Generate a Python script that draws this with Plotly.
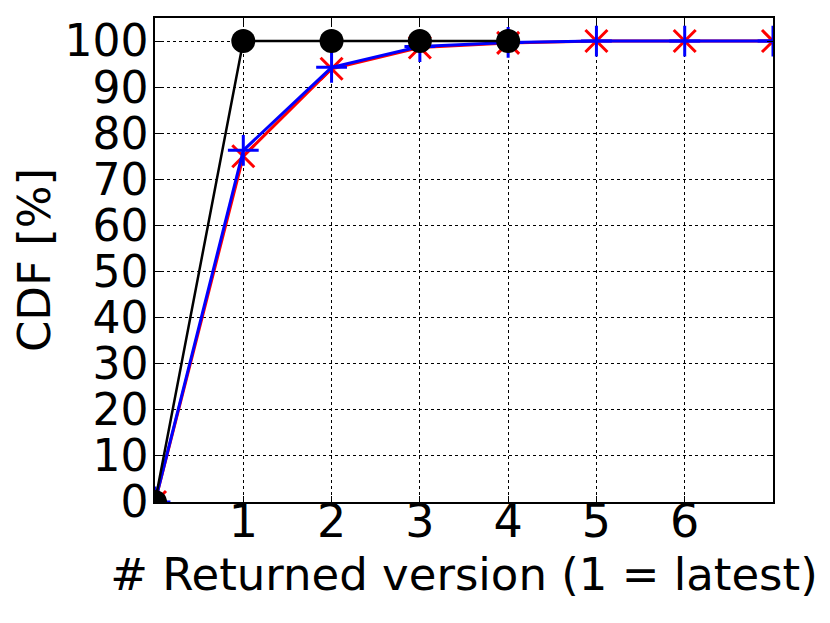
import plotly.graph_objects as go

versions = [0, 1, 2, 3, 4, 5, 6, 7]
cdf_red = [0, 75.0, 94.0, 98.6, 99.6, 100, 100, 100]
cdf_blue = [0, 76.3, 94.3, 98.8, 99.7, 100, 100, 100]
versions_black = [0, 1, 2, 3, 4]
cdf_black = [0, 100, 100, 100, 100]

y_ticks = list(range(0, 101, 10))
x_ticks = [1, 2, 3, 4, 5, 6]

fig = go.Figure()
fig.add_trace(go.Scatter(x=versions, y=cdf_red, mode="lines+markers",
                         line=dict(color="red", width=3),
                         marker=dict(symbol="x-thin", size=22, line=dict(color="red", width=3))))
fig.add_trace(go.Scatter(x=versions, y=cdf_blue, mode="lines+markers",
                         line=dict(color="blue", width=3),
                         marker=dict(symbol="cross-thin", size=22, line=dict(color="blue", width=3))))
fig.add_trace(go.Scatter(x=versions_black, y=cdf_black, mode="lines+markers",
                         line=dict(color="black", width=2.5),
                         marker=dict(symbol="circle", size=24, color="black")))

axis_style = dict(showline=True, linecolor="black", linewidth=1.5, mirror="allticks",
                  ticks="inside", ticklen=6, tickcolor="black", tickwidth=1,
                  showgrid=True, gridcolor="black", griddash="dot", gridwidth=1,
                  zeroline=False)

fig.update_xaxes(range=[0, 7], tickvals=x_ticks, ticklabelstandoff=-22,
                 tickfont=dict(size=46, color="black"),
                 title=dict(text="# Returned version (1 = latest)", font=dict(size=45, color="black"), standoff=8),
                 **axis_style)
fig.update_yaxes(range=[0, 105], tickvals=y_ticks, ticklabelstandoff=-4,
                 tickfont=dict(size=44, color="black"),
                 title=dict(text="CDF [%]", font=dict(size=45, color="black"), standoff=12),
                 **axis_style)

# page body adds 8px, so the figure is 8px smaller than the window
fig.update_layout(width=822, height=615, showlegend=False,
                  plot_bgcolor="white", paper_bgcolor="white",
                  font=dict(family="DejaVu Sans", color="black"),
                  margin=dict(l=147, r=57, t=10, b=121, autoexpand=False))

fig.write_html("out.html")
